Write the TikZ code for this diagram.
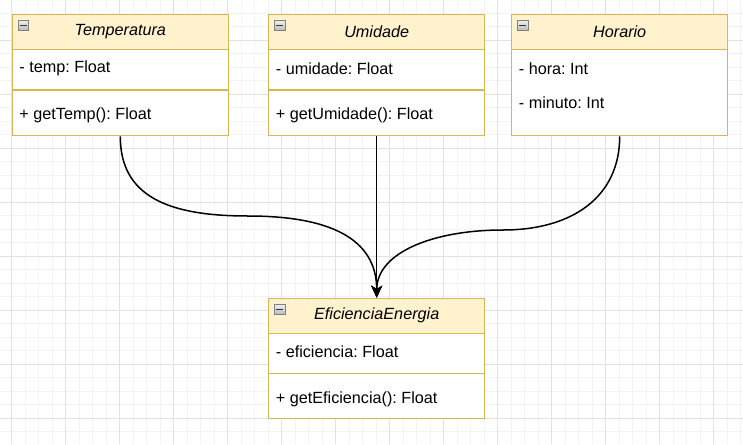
\documentclass[tikz,border=0pt]{standalone}
\usepackage{fontspec}
\setmainfont{Liberation Sans}
\usepackage{xcolor}
\usetikzlibrary{
  arrows.meta,
  positioning}
\frenchspacing
\definecolor{headfill}{HTML}{FFF2CC}
\definecolor{headline}{HTML}{D6B656}
\definecolor{gridmajor}{HTML}{E2E2E2}
\definecolor{gridminor}{HTML}{F3F3F3}
\tikzset{classbox/.style={draw=headline, line width=1.35pt, fill=white, minimum width=216pt, minimum height=121.4pt, inner sep=0pt},
         classhead/.style={draw=headline, line width=1.35pt, fill=headfill, minimum width=216pt, minimum height=35pt, inner sep=0pt, font=\fontsize{16.2}{19}\selectfont\itshape},
         member/.style={anchor=west, inner sep=0pt, font=\fontsize{16.2}{19}\selectfont},
         sepline/.style={draw=headline, line width=1.35pt},
         toggle/.style={draw=gray, line width=0.8pt, top color=gray!10, bottom color=gray!55, minimum size=10.5pt, inner sep=0pt, anchor=north west},
         togglebar/.style={black!80, line width=1.4pt},
         assoc/.style={line width=1.5pt, -{Stealth[length=12pt, width=11pt, inset=3.5pt]}},
         minorgrid/.style={gridminor, line width=1pt},
         majorgrid/.style={gridmajor, line width=1pt}
        }

\begin{document}
\begin{tikzpicture}[x=1pt, y=-1pt]
\useasboundingbox (0,0) rectangle (743,444);
\fill[white] (0,0) rectangle (743,444);

%Grid
\foreach \i in {-1,...,54} \draw[minorgrid] ({11.7+13.5*\i},0) -- ({11.7+13.5*\i},444);
\foreach \j in {-2,...,30} \draw[minorgrid] (0,{40.3+13.5*\j}) -- (743,{40.3+13.5*\j});
\foreach \i in {0,...,13} \draw[majorgrid] ({11.7+54*\i},0) -- ({11.7+54*\i},444);
\foreach \j in {-1,...,7} \draw[majorgrid] (0,{40.3+54*\j}) -- (743,{40.3+54*\j});

%Temperatura
\node[classbox] (temp) at (120.3,75) {};
\node[classhead, anchor=north] (tempHead) at (temp.north) {Temperatura};
\node[toggle] (tempToggle) at ([xshift=6pt,yshift=-6pt]tempHead.north west) {};
\draw[togglebar] ([xshift=2.4pt]tempToggle.west) -- ([xshift=-2.4pt]tempToggle.east);
\node[member] (tempAttr) at (19.3,68.8) {- temp: Float};
\draw[sepline] (temp.west |- 0,90) -- (temp.east |- 0,90);
\node[member] (tempMeth) at (19.3,115) {+ getTemp(): Float};

%Umidade
\node[classbox] (umid) at (376.7,75) {};
\node[classhead, anchor=north] (umidHead) at (umid.north) {Umidade};
\node[toggle] (umidToggle) at ([xshift=6pt,yshift=-6pt]umidHead.north west) {};
\draw[togglebar] ([xshift=2.4pt]umidToggle.west) -- ([xshift=-2.4pt]umidToggle.east);
\node[member] (umidAttr) at (275.7,68.8) {- umidade: Float};
\draw[sepline] (umid.west |- 0,90) -- (umid.east |- 0,90);
\node[member] (umidMeth) at (275.7,115) {+ getUmidade(): Float};

%Horario
\node[classbox] (hora) at (619.7,75) {};
\node[classhead, anchor=north] (horaHead) at (hora.north) {Horario};
\node[toggle] (horaToggle) at ([xshift=6pt,yshift=-6pt]horaHead.north west) {};
\draw[togglebar] ([xshift=2.4pt]horaToggle.west) -- ([xshift=-2.4pt]horaToggle.east);
\node[member] (horaAttr) at (518.7,68.8) {- hora: Int};
\node[member] (minAttr) at (518.7,103.2) {- minuto: Int};

%EficienciaEnergia
\node[classbox, minimum height=120pt] (efic) at (376.7,358.3) {};
\node[classhead, anchor=north] (eficHead) at (efic.north) {EficienciaEnergia};
\node[toggle] (eficToggle) at ([xshift=6pt,yshift=-6pt]eficHead.north west) {};
\draw[togglebar] ([xshift=2.4pt]eficToggle.west) -- ([xshift=-2.4pt]eficToggle.east);
\node[member] (eficAttr) at (275.7,352.2) {- eficiencia: Float};
\draw[sepline] (efic.west |- 0,373.3) -- (efic.east |- 0,373.3);
\node[member] (eficMeth) at (275.7,399) {+ getEficiencia(): Float};

%Associations
\coordinate (tempBend) at (248,216);
\coordinate (horaBend) at (503,230);
\draw[assoc] (temp.south) .. controls +(0,60) and +(-80,0) .. (tempBend) .. controls +(80,0) and +(0,-60) .. (efic.north);
\draw[assoc] (umid.south) -- (efic.north);
\draw[assoc] (hora.south) .. controls +(0,60) and +(70,0) .. (horaBend) .. controls +(-70,0) and +(0,-45) .. (efic.north);
\end{tikzpicture}
\end{document}
